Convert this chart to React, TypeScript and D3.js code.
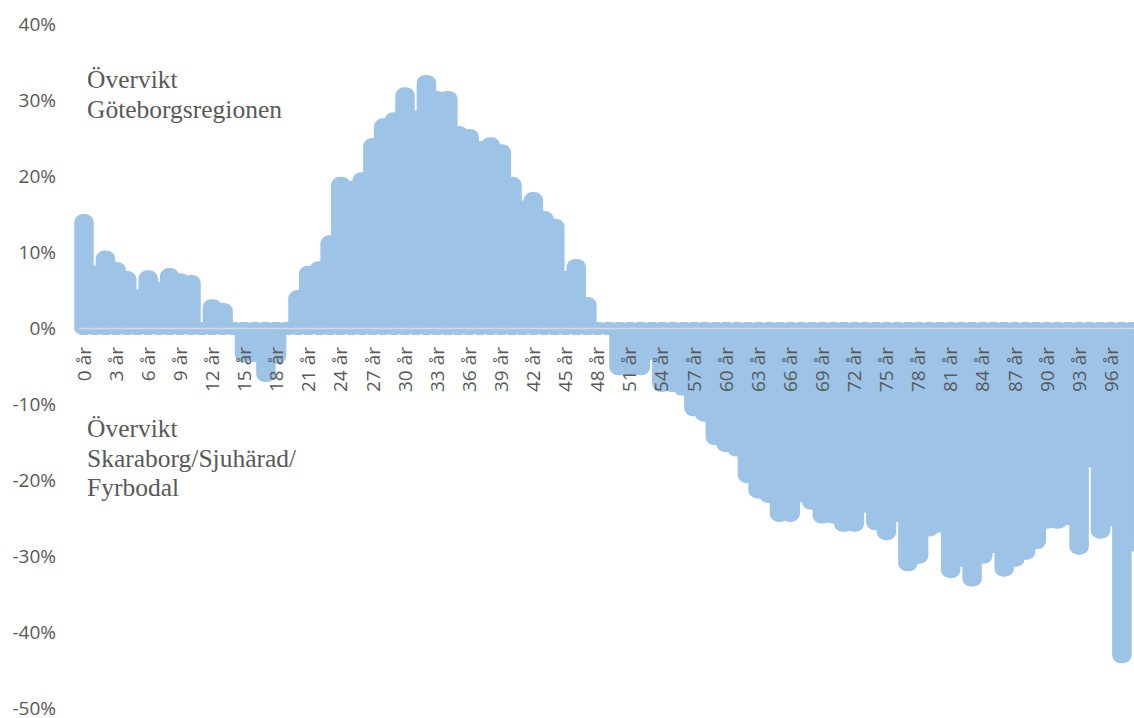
import React from "react";
import * as d3 from "d3";

const W = 1134;
const H = 718;

// Categories: ages 0–99
const ages: string[] = Array.from({ length: 100 }, (_, i) => `${i} år`);

// Övervikt Göteborgsregionen (%), positive
const goteborg: number[] = [
  14.2, 7.4, 9.4, 7.9, 6.7, 4.3, 6.8, 5.3, 7.1, 6.4,
  6.2, 0, 3.0, 2.5, 0, 0, 0, 0, 0, 0,
  4.2, 7.4, 8.0, 11.4, 19.1, 18.6, 19.7, 24.2, 26.8, 27.6,
  30.9, 27.8, 32.5, 30.4, 30.4, 25.8, 25.4, 23.8, 24.3, 23.4,
  19.1, 16.0, 17.1, 14.6, 13.6, 6.7, 8.3, 3.3, 0, 0,
  0, 0, 0, 0, 0, 0, 0, 0, 0, 0,
  0, 0, 0, 0, 0, 0, 0, 0, 0, 0,
  0, 0, 0, 0, 0, 0, 0, 0, 0, 0,
  0, 0, 0, 0, 0, 0, 0, 0, 0, 0,
  0, 0, 0, 0, 0, 0, 0, 0, 0, 0,
];

// Övervikt Skaraborg/Sjuhärad/Fyrbodal (%), negative
const skaraborg: number[] = [
  0, 0, 0, 0, 0, 0, 0, 0, 0, 0,
  0, 0, 0, 0, 0, -3.6, -3.6, -6.2, -3.8, 0,
  0, 0, 0, 0, 0, 0, 0, 0, 0, 0,
  0, 0, 0, 0, 0, 0, 0, 0, 0, 0,
  0, 0, 0, 0, 0, 0, 0, 0, 0, 0,
  -5.3, -5.3, -5.3, -3.3, -7.5, -7.5, -8.0, -10.7, -11.4, -14.5,
  -15.4, -16.0, -19.5, -21.5, -22.1, -24.6, -24.6, -22.0, -23.0, -24.8,
  -24.8, -25.9, -25.9, -23.4, -25.7, -27.0, -24.6, -31.1, -30.1, -26.5,
  -26.0, -32.0, -30.5, -33.1, -30.1, -28.7, -31.8, -30.5, -29.6, -28.2,
  -25.5, -25.5, -25.0, -28.9, -17.4, -26.8, -25.2, -43.2, -28.5, -28.0,
];

const yTicks: number[] = [40, 30, 20, 10, 0, -10, -20, -30, -40, -50];
const labelStep = 3;

const topNote: string[] = ["Övervikt", "Göteborgsregionen"];
const bottomNote: string[] = ["Övervikt", "Skaraborg/Sjuhärad/", "Fyrbodal"];

const BAR = "#9DC3E6";
const TEXT = "#595959";
const AXIS = "#D9D9D9";

export default function App() {
  const x = d3.scaleBand<string>().domain(ages).range([78.65, 1148.65]).padding(0);
  const y = d3.scaleLinear().domain([-50, 40]).range([708.5, 24.5]);
  const cx = (a: string) => (x(a) as number) + x.bandwidth() / 2;
  const half = 6.5; // rounded outline extent beyond value
  const core = 6.5; // inner bar width
  const y0 = y(0);

  const barRect = (a: string, v: number, key: string) => {
    const yv = y(v);
    const top = Math.min(y0, yv) - half;
    const h = Math.abs(yv - y0) + 2 * half;
    const w = core + 2 * half;
    return (
      <rect key={key} x={cx(a) - w / 2} y={top} width={w} height={h} rx={9} ry={8} fill={BAR} />
    );
  };

  const fontAxis = "'Open Sans', 'Noto Sans', sans-serif";
  const fontNote = "'Liberation Serif', 'Times New Roman', serif";

  return (
    <svg
      width={W}
      height={H}
      viewBox={`0 0 ${W} ${H}`}
      style={{ position: "absolute", left: 0, top: 0, background: "#fff", display: "block" }}
    >
      <g>
        {ages.map((a, i) => barRect(a, goteborg[i], `g${i}`))}
        {ages.map((a, i) => barRect(a, skaraborg[i], `s${i}`))}
      </g>
      <line x1={78.65} x2={W} y1={y0} y2={y0} stroke={AXIS} strokeWidth={1.6} />
      <g fontFamily={fontAxis} fontSize={19} fill={TEXT}>
        {yTicks.map((t) => (
          <text key={t} x={56} y={y(t)} dy="0.35em" textAnchor="end">
            {`${t}%`}
          </text>
        ))}
        {ages
          .filter((a, i) => i % labelStep === 0 && cx(a) < W - 12)
          .map((a) => (
            <text
              key={a}
              transform={`translate(${cx(a)},${347}) rotate(-90)`}
              dy="0.35em"
              textAnchor="end"
            >
              {a}
            </text>
          ))}
      </g>
      <g fontFamily={fontNote} fontSize={25.5} fill={TEXT}>
        {topNote.map((s, i) => (
          <text key={s} x={87} y={88 + i * 29.5}>
            {s}
          </text>
        ))}
        {bottomNote.map((s, i) => (
          <text key={s + i} x={87} y={437 + i * 29.5}>
            {s}
          </text>
        ))}
      </g>
    </svg>
  );
}
